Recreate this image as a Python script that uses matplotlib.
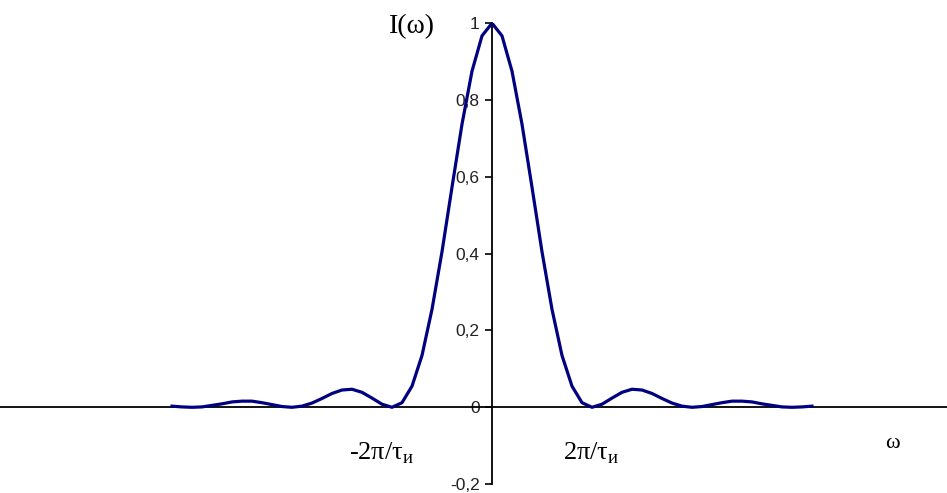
import matplotlib
matplotlib.use('Agg')
import matplotlib.pyplot as plt
from matplotlib.ticker import FuncFormatter

# Значения (ось x в единицах 2π/τи)
omega = [-3.2, -3.1, -3.0, -2.9, -2.8, -2.7, -2.6, -2.5, -2.4, -2.3, -2.2,
         -2.1, -2.0, -1.9, -1.8, -1.7, -1.6, -1.5, -1.4, -1.3, -1.2, -1.1,
         -1.0, -0.9, -0.8, -0.7, -0.6, -0.5, -0.4, -0.3, -0.2, -0.1, 0.0,
         0.1, 0.2, 0.3, 0.4, 0.5, 0.6, 0.7, 0.8, 0.9, 1.0, 1.1, 1.2, 1.3,
         1.4, 1.5, 1.6, 1.7, 1.8, 1.9, 2.0, 2.1, 2.2, 2.3, 2.4, 2.5, 2.6,
         2.7, 2.8, 2.9, 3.0, 3.1, 3.2]
intensity = [0.003, 0.001, 0.0, 0.001, 0.005, 0.009, 0.014, 0.016, 0.016, 0.012, 0.007,
             0.002, 0.0, 0.003, 0.011, 0.023, 0.036, 0.045, 0.047, 0.039, 0.024, 0.008,
             0.0, 0.012, 0.055, 0.135, 0.255, 0.405, 0.573, 0.737, 0.875, 0.967, 1.0,
             0.967, 0.875, 0.737, 0.573, 0.405, 0.255, 0.135, 0.055, 0.012, 0.0, 0.008,
             0.024, 0.039, 0.047, 0.045, 0.036, 0.023, 0.011, 0.003, 0.0, 0.002, 0.007,
             0.012, 0.016, 0.016, 0.014, 0.009, 0.005, 0.001, 0.0, 0.001, 0.003]

y_ticks = [-0.2, 0.0, 0.2, 0.4, 0.6, 0.8, 1.0]

fig = plt.figure(figsize=(9.47, 4.93), dpi=100)
ax = fig.add_axes([0.0, 0.018, 1.0, 0.935])

ax.plot(omega, intensity, color='#000080', linewidth=2.3, zorder=3)

ax.set_xlim(-4.92, 4.55)
ax.set_ylim(-0.2, 1.0)

# Оси как в Excel: вертикальная через 0, горизонтальная через 0
for s in ['top', 'right']:
    ax.spines[s].set_visible(False)
ax.spines['left'].set_position(('data', 0))
ax.spines['bottom'].set_position(('data', 0))
ax.spines['left'].set_linewidth(1.3)
ax.spines['bottom'].set_linewidth(1.3)
ax.set_xticks([])
ax.set_yticks(y_ticks)
ax.yaxis.set_major_formatter(FuncFormatter(lambda v, p: f'{v:g}'.replace('.', ',')))
ax.tick_params(axis='y', direction='out', length=5, width=1.2, labelsize=12.5, pad=4,
               labelcolor='#222222')
for lbl in ax.get_yticklabels():
    lbl.set_family('Liberation Sans')

ax.text(-0.80, 0.99, 'I(ω)', family='Liberation Serif', fontsize=20, ha='center', va='center')
ax.text(-1.1, -0.12, r'-2π/τ$_\mathregular{и}$', family='Liberation Serif', fontsize=19,
        ha='center', va='center')
ax.text(0.99, -0.12, r'2π/τ$_\mathregular{и}$', family='Liberation Serif', fontsize=19,
        ha='center', va='center')
ax.text(4.0, -0.094, 'ω', family='Liberation Serif', fontsize=16, ha='center', va='center')

fig.savefig('out.png', dpi=100)
